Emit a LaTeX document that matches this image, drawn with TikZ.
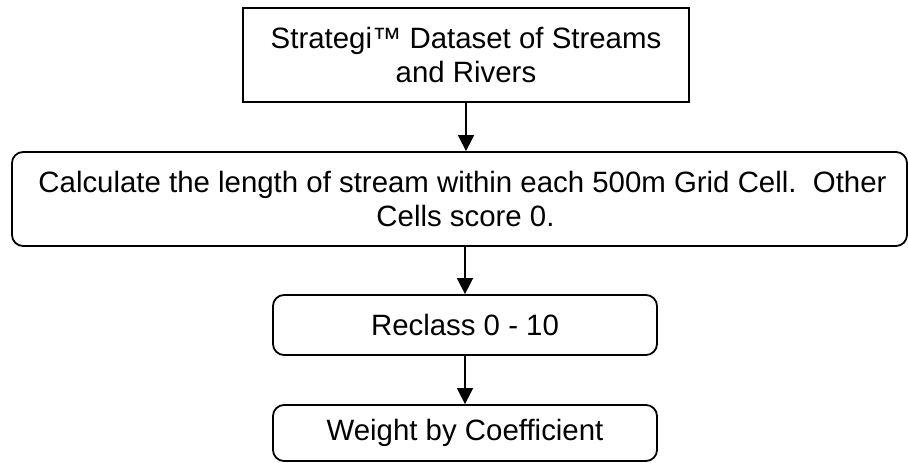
\documentclass[tikz,border=0pt]{standalone}
\usepackage{fontspec}
\setmainfont{Liberation Sans}
\usetikzlibrary{arrows.meta}
\begin{document}
\begin{tikzpicture}[x=1pt,y=-1pt,
  box/.style={draw=black,line width=1.8pt,align=center,inner sep=0pt,
    font=\fontsize{29.4}{34}\selectfont},
  rbox/.style={box,rounded corners=11pt},
  arr/.style={line width=1.6pt,-{Triangle[width=16pt,length=16pt]}}]
\useasboundingbox (0,0) rectangle (908,463);
\node[box,minimum width=446pt,minimum height=94pt] (b1) at (466,55)
  {Strategi™ Dataset of Streams\\and Rivers};
\node[rbox,minimum width=895pt,minimum height=94pt] (b2) at (459.5,199)
  {\hspace*{6pt}Calculate the length of stream within each 500m Grid Cell.\ \ Other\\\hspace*{12pt}Cells score 0.};
\node[rbox,minimum width=384pt,minimum height=60pt] (b3) at (465,325)
  {Reclass 0 - 10};
\node[rbox,minimum width=384pt,minimum height=56pt] (b4) at (465,433)
  {Weight by Coefficient};
\draw[arr] (b1.south) -- (b1.south |- b2.north);
\draw[arr] (b3.north |- b2.south) -- (b3.north);
\draw[arr] (b3.south) -- (b4.north);
\end{tikzpicture}
\end{document}
